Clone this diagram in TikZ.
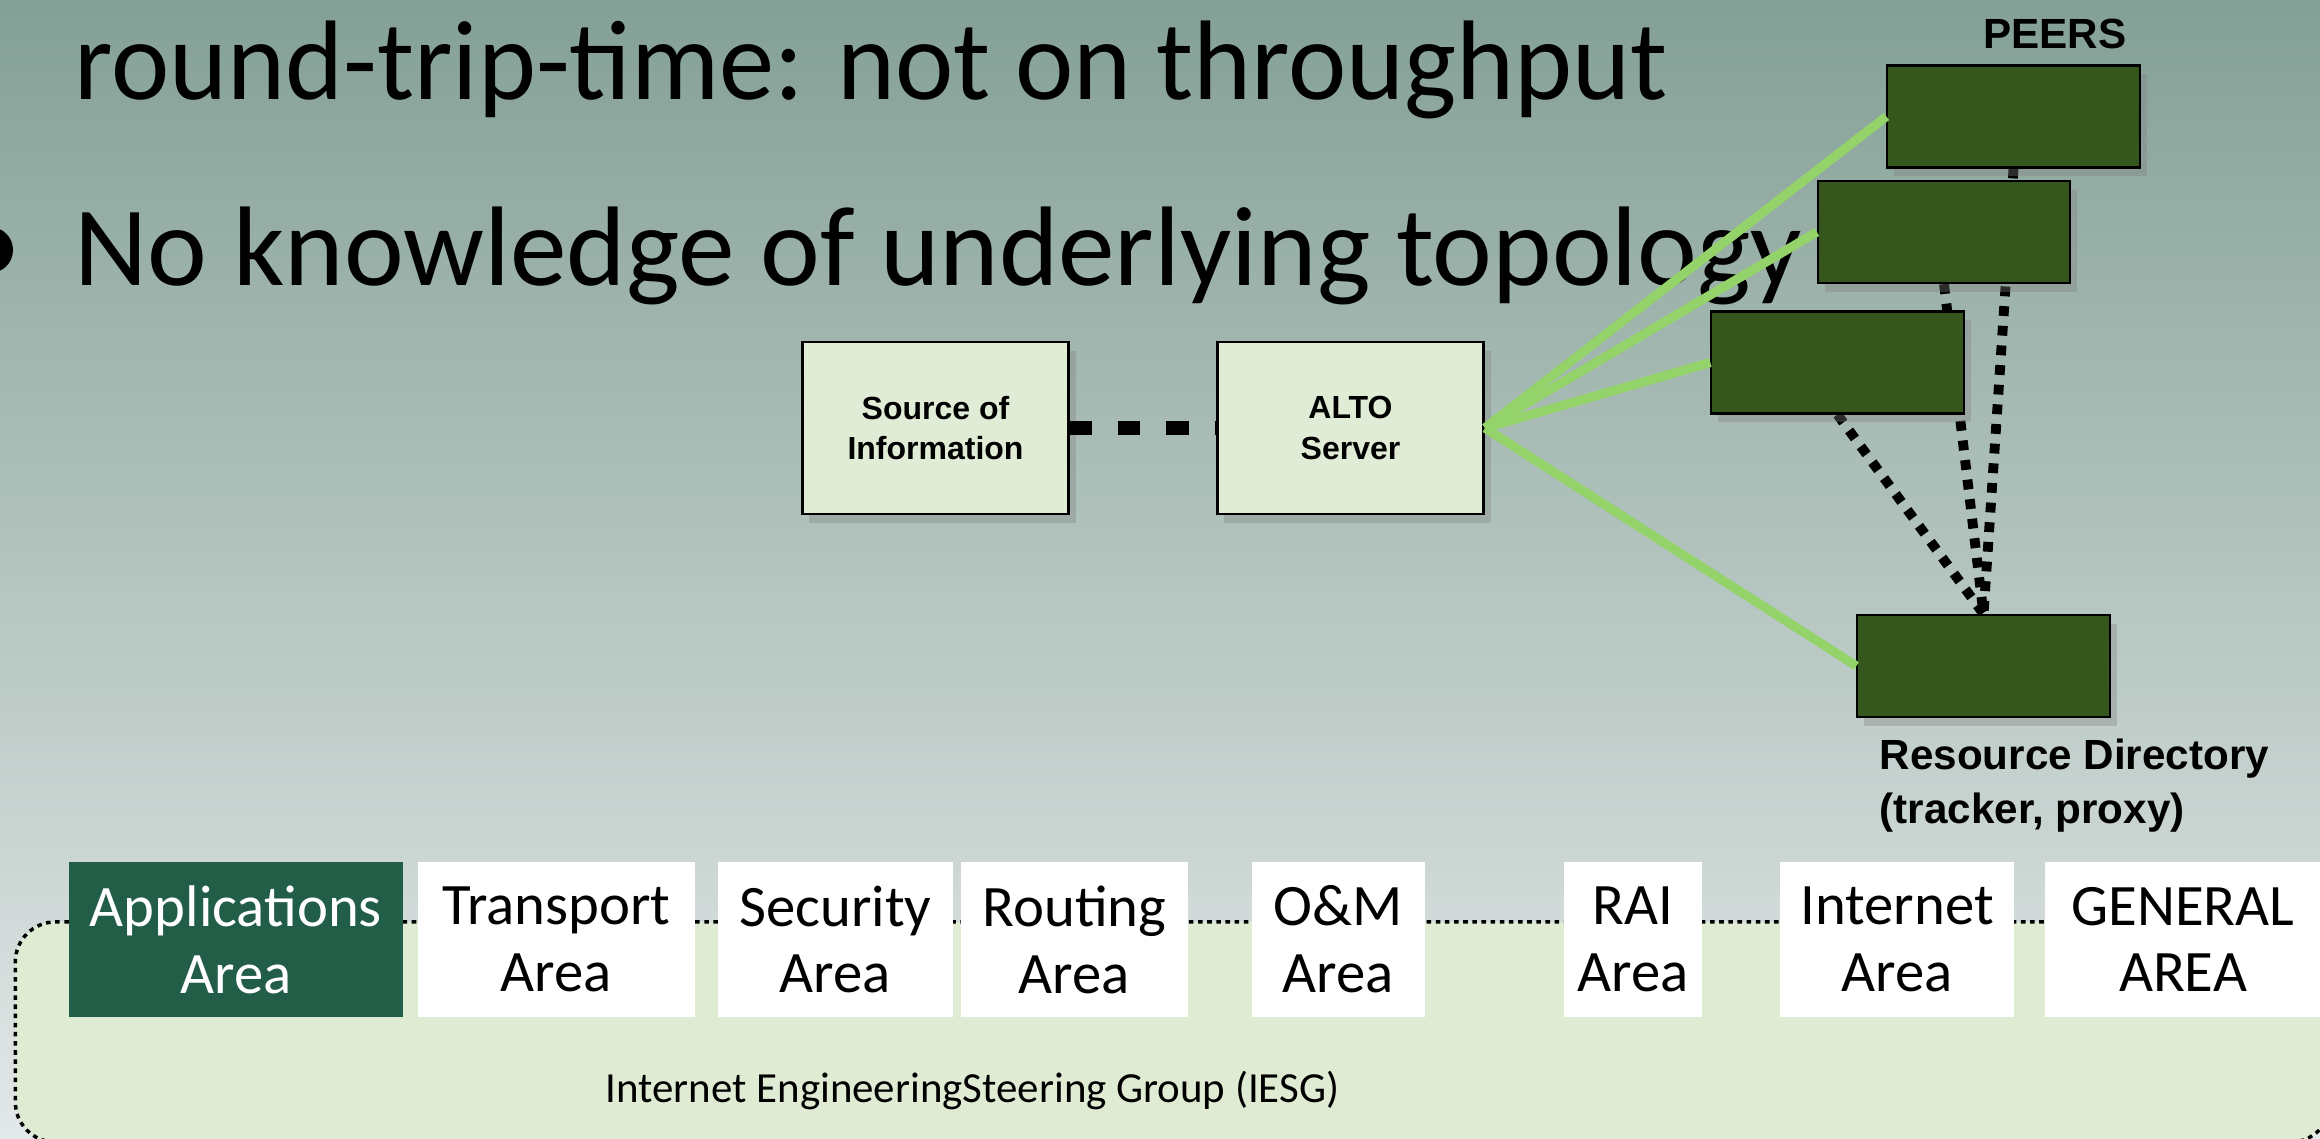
\documentclass[tikz,border=0pt]{standalone}
\usepackage{fontspec}
\setmainfont{Carlito}
\newfontfamily\hv{Liberation Sans}
\usetikzlibrary{shadows}
\definecolor{bgtop}{HTML}{84A096}
\definecolor{bgmid}{HTML}{B0C1BD}
\definecolor{bgbot}{HTML}{E3E8E8}
\definecolor{lightbox}{HTML}{E0ECD5}
\definecolor{peerfill}{HTML}{35561C}
\definecolor{linkgreen}{HTML}{94D36A}
\definecolor{appfill}{HTML}{225E47}
\definecolor{iesgfill}{HTML}{E0EBD4}
\pgfdeclarelayer{bglayer}
\pgfdeclarelayer{behind}
\pgfsetlayers{bglayer,behind,main}
\begin{document}
\begin{tikzpicture}[x=0.01cm,y=-0.01cm,
  shadowed/.style={drop shadow={shadow xshift=2pt,shadow yshift=-2.5pt,opacity=0.35}},
  infobox/.style={draw=black,line width=0.8pt,fill=lightbox,minimum width=2.66cm,minimum height=1.72cm,inner sep=0pt,align=center,font=\hv\bfseries\fontsize{9.1pt}{11.4pt}\selectfont,shadowed},
  peerbox/.style={draw=black,line width=0.6pt,fill=peerfill,minimum width=2.52cm,minimum height=1.02cm,inner sep=0pt,shadowed},
  greenlink/.style={draw=linkgreen,line width=2.6pt},
  blackdash/.style={draw=black,line width=3.8pt,dash pattern=on 6.3pt off 7.4pt},
  blackdot/.style={draw=black,line width=2.8pt,dash pattern=on 2.8pt off 2.8pt},
  boldlabel/.style={inner sep=0pt,font=\hv\bfseries\fontsize{12pt}{15.4pt}\selectfont},
  titletext/.style={inner sep=0pt,anchor=base west,font=\fontsize{32.2pt}{38pt}\selectfont},
  areabox/.style={fill=white,minimum height=1.55cm,inner sep=0pt,align=center,font=\fontsize{16.7pt}{19pt}\selectfont},
  iesgbox/.style={draw=black,line width=1pt,dash pattern=on 1.3pt off 1.3pt,fill=iesgfill,rounded corners=0.4cm,minimum width=23.14cm,minimum height=2.2cm,inner sep=0pt}
]
\useasboundingbox (0,0) rectangle (2320,1139);
\clip (0,0) rectangle (2320,1139);
\begin{pgfonlayer}{bglayer}
\shade[top color=bgtop,middle color=bgmid,bottom color=bgbot] (0,0) rectangle (2320,1139);
\end{pgfonlayer}

% slide text
\node[titletext] (t1) at (74,99) {\scalebox{0.975}[1]{round-trip-time: not on throughput}};
\node[circle,fill=black,minimum size=0.46cm,inner sep=0pt] (bullet) at (-10,250) {};
\node[titletext] (t2) at (74,285) {No knowledge of underlying topology};

% ALTO diagram
\node[infobox] (src) at (935.5,428) {Source of\\Information};
\node[infobox] (alto) at (1350.5,428) {ALTO\\Server};
\node[peerbox] (p1) at (2013.5,116.5) {};
\node[peerbox] (p2) at (1944,232) {};
\node[peerbox] (p3) at (1837.5,362.5) {};
\node[peerbox] (rd) at (1983.5,666) {};
\node[boldlabel] (peers) at (2055,34) {PEERS};
\node[boldlabel,anchor=north west,align=left] (rdlabel) at (1879,738) {Resource Directory\\(tracker, proxy)};

\begin{pgfonlayer}{behind}
\draw[blackdot] (p1.south) -- (rd.north);
\draw[blackdot] (p2.south) -- (rd.north);
\draw[blackdot] (p3.south) -- (rd.north);
\end{pgfonlayer}
\draw[blackdash] (src.east) -- (alto.west);
\draw[greenlink] (alto.east) -- (p1.west);
\draw[greenlink] (alto.east) -- (p2.west);
\draw[greenlink] (alto.east) -- (p3.west);
\draw[greenlink] (alto.east) -- (rd.west);

% IETF areas
\node[iesgbox] (iesg) at (1173,1032) {};
\node[inner sep=0pt,anchor=base west,font=\fontsize{12.2pt}{14pt}\selectfont] (iesglabel) at (605,1102) {Internet EngineeringSteering Group (IESG)};
\node[areabox,fill=appfill,text=white,minimum width=3.34cm] (app) at (236,939.5) {Applications\\Area};
\node[areabox,minimum width=2.77cm] (tsv) at (556.5,939.5) {Transport\\Area};
\node[areabox,minimum width=2.35cm] (sec) at (835.5,939.5) {Security\\Area};
\node[areabox,minimum width=2.27cm] (rtg) at (1074.5,939.5) {Routing\\Area};
\node[areabox,minimum width=1.73cm] (ops) at (1338.5,939.5) {O\&M\\Area};
\node[areabox,minimum width=1.38cm] (rai) at (1633,939.5) {RAI\\Area};
\node[areabox,minimum width=2.34cm] (int) at (1897,939.5) {Internet\\Area};
\node[areabox,minimum width=2.76cm] (gen) at (2183,939.5) {GENERAL\\AREA};
\end{tikzpicture}
\end{document}
